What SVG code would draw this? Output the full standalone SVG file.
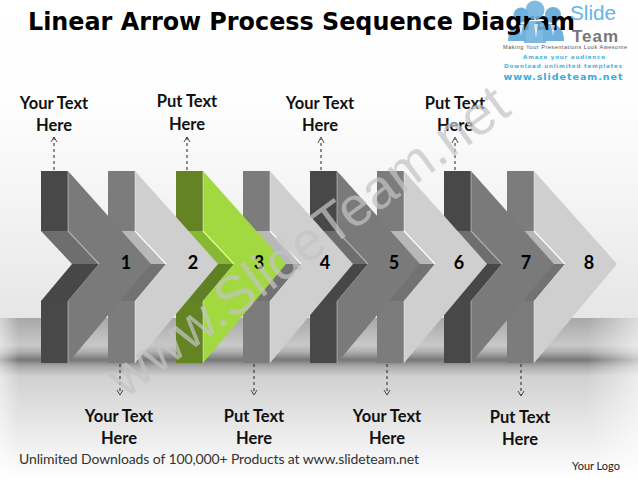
<svg xmlns="http://www.w3.org/2000/svg" width="638" height="479" viewBox="0 0 638 479">
<defs>
<linearGradient id="wall" x1="0" y1="0" x2="0" y2="1"><stop offset="0" stop-color="#ffffff"/><stop offset="0.3" stop-color="#fefefe"/><stop offset="0.6" stop-color="#f5f5f5"/><stop offset="1" stop-color="#e6e6e6"/></linearGradient>
<linearGradient id="floor" x1="0" y1="0" x2="0" y2="1"><stop offset="0" stop-color="#a8a8a8"/><stop offset="0.168" stop-color="#c8c8c8"/><stop offset="0.21" stop-color="#b0b0b0"/><stop offset="0.26" stop-color="#777777"/><stop offset="0.3" stop-color="#a8a8a8"/><stop offset="0.36" stop-color="#d0d0d0"/><stop offset="0.51" stop-color="#dcdcdc"/><stop offset="0.76" stop-color="#eeeeee"/><stop offset="1" stop-color="#ffffff"/></linearGradient>
<linearGradient id="edge" x1="0" y1="0" x2="1" y2="0"><stop offset="0" stop-color="#fff" stop-opacity=".5"/><stop offset="0.03" stop-color="#fff" stop-opacity="0"/><stop offset="0.92" stop-color="#fff" stop-opacity="0"/><stop offset="1" stop-color="#fff" stop-opacity=".6"/></linearGradient>
<path id="st" d="M0 0H27V60H0ZM0 130H27V192H0Z"/>
<path id="up" d="M0 60H27L58 93H31Z"/>
<path id="lo" d="M0 130L31 93H58L27 130Z"/>
<path id="fa" d="M27 0L110 93L27 192V130L58 93L27 60Z"/>
</defs>
<style>
text{font-family:"Lato","Open Sans","Liberation Sans",sans-serif;fill:#111}
.lb{font-weight:700;font-size:16.5px;text-anchor:middle}
.n{font-weight:700;font-size:18px;text-anchor:middle;fill:#000}
.d .st{fill:#484848}.d .up{fill:#6e6e6e}.d .lo{fill:#474747}.d .fa{fill:#7a7a7a}.d .hl{stroke:#b0b0b0}
.m .st{fill:#7c7c7c}.m .up{fill:#b8b8b8}.m .lo{fill:#727272}.m .fa{fill:#cfcfcf}.m .hl{stroke:#fff}
.g .st{fill:#648424}.g .up{fill:#86b833}.g .lo{fill:#5f8025}.g .fa{fill:#a3d940}.g .hl{stroke:#e6ff90}
.hl{fill:none;stroke-width:1.2}
.ed{fill:none;stroke:#fff;stroke-opacity:.35;stroke-width:1.2}
.c{stroke:#222;stroke-width:1;stroke-dasharray:3 3;fill:none}
.h{fill:none;stroke:#222;stroke-width:.8}
.p{fill:#6fb1dc}
.t{fill:#fff;fill-opacity:.75}
</style>
<rect id="wall-bg" width="638" height="319" fill="url(#wall)"/>
<rect id="floor-bg" y="318" width="638" height="161" fill="url(#floor)"/>
<rect id="edge-fade" y="318" width="638" height="161" fill="url(#edge)"/>

<g id="logo-side">
<circle class="p" cx="521" cy="15" r="7.5"/><circle class="p" cx="553" cy="15" r="8"/>
<path class="p" d="M508 41Q508 26 520 24H526V41Z"/><path class="p" d="M543 24H552Q564 26 564 41H543Z"/>
</g>
<g id="title"><text x="28" y="30" textLength="547" lengthAdjust="spacingAndGlyphs" style="font-family:'DejaVu Sans',sans-serif;font-weight:700;font-size:25px;fill:#000">Linear Arrow Process Sequence Diagram</text></g>

<g id="logo">
<g opacity=".88"><circle class="p" cx="535" cy="10" r="9.5"/>
<path class="p" d="M524 43Q523 25 530 21H541Q548 25 546 43Z"/></g>
<path class="t" d="M519 25L521 36L523 25ZM534 24L536 38L538 24ZM551 25L553 36L555 25Z"/>
<text x="570" y="20" textLength="46" lengthAdjust="spacingAndGlyphs" style="font-family:'Liberation Sans',sans-serif;font-size:20px;fill:#5fb7e5">Slide</text>
<text x="572" y="42" textLength="46" style="font-family:'Liberation Sans',sans-serif;font-weight:700;font-size:17px;fill:#777">Team</text>
<text x="565" y="49" text-anchor="middle" textLength="124" style="font-family:'Liberation Sans',sans-serif;font-size:5.6px;fill:#555">Making Your Presentations Look Awesome</text>
<text x="564" y="59" text-anchor="middle" textLength="82" style="font-family:'DejaVu Sans',sans-serif;font-weight:700;font-size:5.6px;fill:#4fb5e6">Amaze your audience</text>
<text x="563" y="68" text-anchor="middle" textLength="118" style="font-family:'DejaVu Sans',sans-serif;font-weight:700;font-size:5.6px;fill:#4fb5e6">Download unlimited templates</text>
<text x="563" y="80" text-anchor="middle" textLength="119" style="font-family:'DejaVu Sans',sans-serif;font-weight:700;font-size:9.5px;fill:#35ace0">www.slideteam.net</text>
</g>

<g id="connectors">
<path class="c" d="M54 170V137"/><path class="h" d="M51 142L54 137L57 142"/>
<path class="c" d="M187 170V137"/><path class="h" d="M184 142L187 137L190 142"/>
<path class="c" d="M321 170V139"/><path class="h" d="M318 143L321 137L324 143"/>
<path class="c" d="M455 170V139"/><path class="h" d="M452 143L455 137L458 143"/>
<path class="c" d="M120 364V394"/><path class="h" d="M117 390L120 395L123 390"/>
<path class="c" d="M254 364V394"/><path class="h" d="M251 390L254 395L257 390"/>
<path class="c" d="M387 364V394"/><path class="h" d="M384 390L387 395L390 390"/>
<path class="c" d="M521 364V395"/><path class="h" d="M518 391L521 396L524 391"/>
</g>

<g id="node-8" class="m" transform="translate(507 171)"><use class="st" href="#st"/><use class="up" href="#up"/><use class="lo" href="#lo"/><use class="fa" href="#fa"/><path class="hl" d="M27 60L58 93"/><path class="ed" d="M27 0V60M27 130V192"/></g>
<g id="node-7" class="d" transform="translate(444 171)"><use class="st" href="#st"/><use class="up" href="#up"/><use class="lo" href="#lo"/><use class="fa" href="#fa"/><path class="hl" d="M27 60L58 93"/><path class="ed" d="M27 0V60M27 130V192"/></g>
<g id="node-6" class="m" transform="translate(377 171)"><use class="st" href="#st"/><use class="up" href="#up"/><use class="lo" href="#lo"/><use class="fa" href="#fa"/><path class="hl" d="M27 60L58 93"/><path class="ed" d="M27 0V60M27 130V192"/></g>
<g id="node-5" class="d" transform="translate(310 171)"><use class="st" href="#st"/><use class="up" href="#up"/><use class="lo" href="#lo"/><use class="fa" href="#fa"/><path class="hl" d="M27 60L58 93"/><path class="ed" d="M27 0V60M27 130V192"/></g>
<g id="node-4" class="m" transform="translate(243 171)"><use class="st" href="#st"/><use class="up" href="#up"/><use class="lo" href="#lo"/><use class="fa" href="#fa"/><path class="hl" d="M27 60L58 93"/><path class="ed" d="M27 0V60M27 130V192"/></g>
<g id="node-3" class="g" transform="translate(176 171)"><use class="st" href="#st"/><use class="up" href="#up"/><use class="lo" href="#lo"/><use class="fa" href="#fa"/><path class="hl" d="M27 60L58 93"/><path class="ed" d="M27 0V60M27 130V192"/></g>
<g id="node-2" class="m" transform="translate(108 171)"><use class="st" href="#st"/><use class="up" href="#up"/><use class="lo" href="#lo"/><use class="fa" href="#fa"/><path class="hl" d="M27 60L58 93"/><path class="ed" d="M27 0V60M27 130V192"/></g>
<g id="node-1" class="d" transform="translate(41 171)"><use class="st" href="#st"/><use class="up" href="#up"/><use class="lo" href="#lo"/><use class="fa" href="#fa"/><path class="hl" d="M27 60L58 93"/><path class="ed" d="M27 0V60M27 130V192"/></g>

<g id="numbers">
<text class="n" x="126" y="269">1</text><text class="n" x="193" y="269">2</text><text class="n" x="259" y="269">3</text><text class="n" x="325" y="269">4</text><text class="n" x="394" y="269">5</text><text class="n" x="459" y="269">6</text><text class="n" x="526" y="269">7</text><text class="n" x="589" y="269">8</text>
</g>

<g id="labels">
<text class="lb" x="54" y="109">Your Text</text><text class="lb" x="54" y="131">Here</text>
<text class="lb" x="187" y="107">Put Text</text><text class="lb" x="187" y="130">Here</text>
<text class="lb" x="320" y="109">Your Text</text><text class="lb" x="320" y="131">Here</text>
<text class="lb" x="455" y="109">Put Text</text><text class="lb" x="455" y="131">Here</text>
<text class="lb" x="119" y="422">Your Text</text><text class="lb" x="119" y="444">Here</text>
<text class="lb" x="254" y="422">Put Text</text><text class="lb" x="254" y="444">Here</text>
<text class="lb" x="387" y="422">Your Text</text><text class="lb" x="387" y="444">Here</text>
<text class="lb" x="520" y="423">Put Text</text><text class="lb" x="520" y="445">Here</text>
</g>

<g id="footer">
<text x="19" y="464" textLength="400" style="font-size:14px;fill:#333">Unlimited Downloads of 100,000+ Products at www.slideteam.net</text>
<text x="572" y="470" style="font-size:11px;fill:#222">Your Logo</text>
</g>

<text id="watermark" transform="translate(125 399) rotate(-36.4)" textLength="482" style="font-family:'Liberation Sans',sans-serif;font-size:55px;fill:#c4c4c4;fill-opacity:.72">www.SlideTeam.net</text>
</svg>
